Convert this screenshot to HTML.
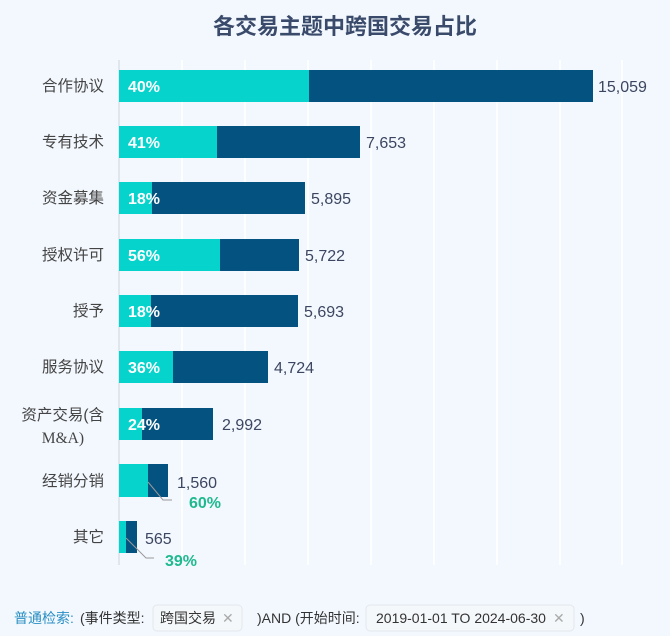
<!DOCTYPE html>
<html><head><meta charset="utf-8"><style>
body{margin:0;width:670px;height:636px;background:#f3f8fe;font-family:"Liberation Sans","Noto Sans CJK SC",sans-serif;position:relative;overflow:hidden}
</style></head><body>
<svg width="670" height="636" style="position:absolute;left:0;top:0" font-family="Liberation Sans, Noto Sans CJK SC, sans-serif">
<text x="345" y="34" text-anchor="middle" font-size="22" font-weight="bold" fill="#3a4a6b">各交易主题中跨国交易占比</text>
<g stroke="#ffffff" stroke-width="1.5">
<line x1="182" y1="60" x2="182" y2="565"/><line x1="245" y1="60" x2="245" y2="565"/><line x1="308" y1="60" x2="308" y2="565"/><line x1="371" y1="60" x2="371" y2="565"/><line x1="434" y1="60" x2="434" y2="565"/><line x1="497" y1="60" x2="497" y2="565"/><line x1="560" y1="60" x2="560" y2="565"/><line x1="622" y1="60" x2="622" y2="565"/>
</g>
<line x1="119" y1="60" x2="119" y2="565" stroke="#ccd3dc" stroke-width="1"/>
<g font-size="15.5" fill="#444">
<g text-anchor="end">
<text x="104" y="91">合作协议</text><text x="104" y="147">专有技术</text><text x="104" y="203">资金募集</text><text x="104" y="260">授权许可</text><text x="104" y="316">授予</text><text x="104" y="372">服务协议</text><text x="104" y="420">资产交易(含</text><text x="84" y="443" font-family="Liberation Serif, serif">M&amp;A)</text><text x="104" y="486">经销分销</text><text x="104" y="542">其它</text>
</g>
</g>
<g fill="#04527f">
<rect x="119" y="70" width="474" height="32"/><rect x="119" y="126" width="241" height="32"/><rect x="119" y="182" width="186" height="32"/><rect x="119" y="239" width="180" height="32"/><rect x="119" y="295" width="179" height="32"/><rect x="119" y="351" width="149" height="32"/><rect x="119" y="408" width="94" height="32"/><rect x="119" y="464" width="49" height="33"/><rect x="119" y="521" width="18" height="32"/>
</g>
<g fill="#06d3cc">
<rect x="119" y="70" width="190" height="32"/><rect x="119" y="126" width="98" height="32"/><rect x="119" y="182" width="33" height="32"/><rect x="119" y="239" width="101" height="32"/><rect x="119" y="295" width="32" height="32"/><rect x="119" y="351" width="54" height="32"/><rect x="119" y="408" width="23" height="32"/><rect x="119" y="464" width="29" height="33"/><rect x="119" y="521" width="7" height="32"/>
</g>
<g font-size="16" font-weight="bold" fill="#fff">
<text x="128" y="92">40%</text><text x="128" y="148">41%</text><text x="128" y="204">18%</text><text x="128" y="261">56%</text><text x="128" y="317">18%</text><text x="128" y="373">36%</text><text x="128" y="430">24%</text>
</g>
<g font-size="16" fill="#3c4660">
<text x="598" y="92">15,059</text><text x="366" y="148">7,653</text><text x="311" y="204">5,895</text><text x="305" y="261">5,722</text><text x="304" y="317">5,693</text><text x="274" y="373">4,724</text><text x="222" y="430">2,992</text><text x="177" y="488">1,560</text><text x="145" y="544">565</text>
</g>
<g stroke="#999" fill="none" stroke-width="1"><polyline points="148,482 163,500 172,500"/><polyline points="126,538 146,558 154,558"/></g>
<g font-size="16" font-weight="bold" fill="#1fb98f"><text x="189" y="508">60%</text><text x="165" y="566">39%</text></g>
<rect x="153" y="605" width="89" height="26" rx="4" fill="#f5f8fb" stroke="#e3e8ee"/>
<rect x="366" y="605" width="208" height="26" rx="4" fill="#f5f8fb" stroke="#e3e8ee"/>
<g font-size="14" fill="#333">
<text x="14" y="623" fill="#2a8fc4">普通检索:</text><text x="80" y="623">(事件类型:</text><text x="160" y="623">跨国交易</text><text x="222" y="623" fill="#aaa">✕</text><text x="257" y="623">)AND (开始时间:</text><text x="376" y="623">2019-01-01 TO 2024-06-30</text><text x="553" y="623" fill="#aaa">✕</text><text x="580" y="623">)</text>
</g>
</svg>
</body></html>
